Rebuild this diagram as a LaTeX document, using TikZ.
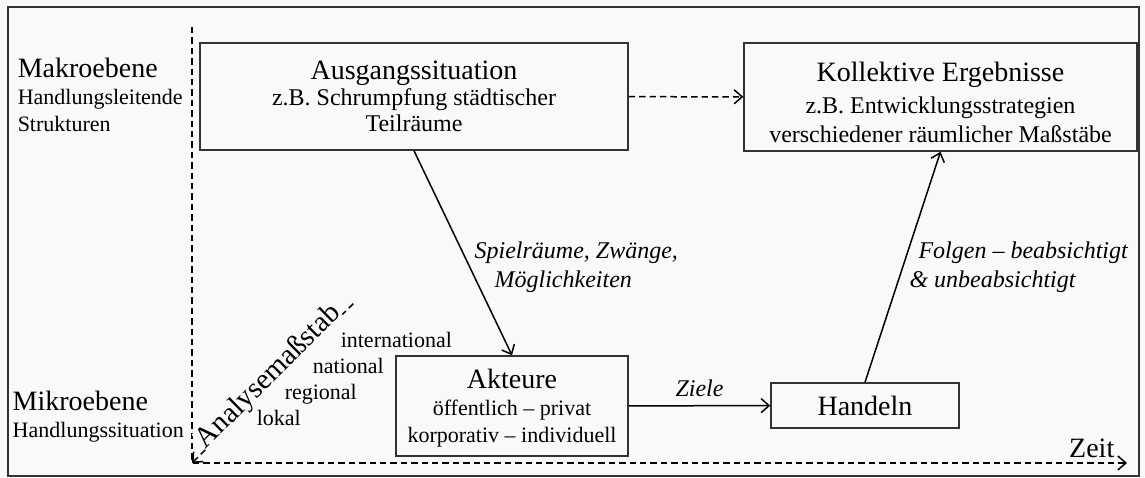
\documentclass[tikz,border=0pt]{standalone}
\usepackage{fontspec}
\setmainfont{Liberation Serif}
\usetikzlibrary{arrows.meta}
\definecolor{bggray}{gray}{0.976}
\definecolor{linegray}{gray}{0.2}
\newcommand\boxtitle{\fontsize{14}{16}\selectfont}
\newcommand\boxsub{\fontsize{12}{13}\selectfont}
\newcommand\sidesub{\fontsize{11}{13.5}\selectfont}

\begin{document}
\begin{tikzpicture}[x=0.5pt, y=-0.5pt, line width=0.75pt,
    >={Straight Barb[length=4pt,width=7pt]},
    bx/.style={rectangle, draw=linegray, align=center, inner sep=0pt},
    lb/.style={font=\fontsize{12}{14.5}\selectfont\itshape, inner sep=2pt},
    dsh/.style={dash pattern=on 3.2pt off 2pt}]
    \useasboundingbox (0,0) rectangle (1145,477);
    \fill[bggray] (0,0) rectangle (1145,477);
    \draw[linegray] (8,7) rectangle (1139,476);

    % Achsen
    \coordinate (top) at (192,27);
    \coordinate (orig) at (192,463);
    \coordinate (tend) at (1127,463);
    \coordinate (sc) at (356,301);
    \draw[dsh, ->] (top) -- (orig) -- (tend)
        node[anchor=base east, inner sep=0pt, xshift=-6pt, yshift=3pt, font=\boxtitle] {Zeit};
    \draw[dsh, <-] (orig) -- (sc)
        node[pos=0.5, sloped, anchor=base, fill=bggray, inner sep=0pt, font=\fontsize{14.5}{17}\selectfont] {Analysemaßstab};
    \foreach \lvl [count=\i from 0] in {international,national,regional,lokal}
        \node[anchor=base west, inner sep=0pt, font=\sidesub] at (340-28*\i, 347+26*\i) {\lvl};

    % Ebenen
    \node[anchor=west, align=left, inner sep=0pt, font=\sidesub] (makro) at (17,95)
        {{\boxtitle Makroebene}\\Handlungsleitende\\Strukturen};
    \node[anchor=west, align=left, inner sep=0pt, font=\sidesub] (mikro) at (12,417)
        {{\boxtitle Mikroebene}\\Handlungssituation};

    % Kaesten
    \node[bx, minimum width=214pt, minimum height=53.5pt, font=\boxsub] (ausg) at (414,96.5)
        {{\boxtitle Ausgangssituation}\\z.B. Schrumpfung städtischer\\Teilräume};
    \node[bx, minimum width=196.5pt, minimum height=54pt, font=\boxsub] (koll) at (940.5,97)
        {{\boxtitle\rule{0pt}{15pt}Kollektive Ergebnisse}\\[3pt]z.B. Entwicklungsstrategien\\[1.5pt]verschiedener räumlicher Maßstäbe};
    \node[bx, minimum width=116pt, minimum height=50pt, font=\sidesub] (akt) at (512,406)
        {{\boxtitle\rule{0pt}{12pt}Akteure}\\öffentlich – privat\\korporativ – individuell};
    \node[bx, minimum width=94pt, minimum height=22.5pt, font=\boxtitle] (hand) at (865,405.5) {Handeln};

    % Verbindungen
    \draw[dsh, ->] (ausg) -- (koll);
    \draw[->] (ausg.south) -- (akt.north)
        node[lb, pos=0.57, anchor=west, align=left] {Spielräume, Zwänge,\\\hspace*{10pt}Möglichkeiten};
    \draw[->] (akt) -- (hand) node[lb, midway, above=2pt] {Ziele};
    \draw[->] (hand.north) -- (koll.south)
        node[lb, pos=0.5, anchor=west, align=left, xshift=1pt] {\hspace*{4.5pt}Folgen – beabsichtigt\\\& unbeabsichtigt};
\end{tikzpicture}
\end{document}
